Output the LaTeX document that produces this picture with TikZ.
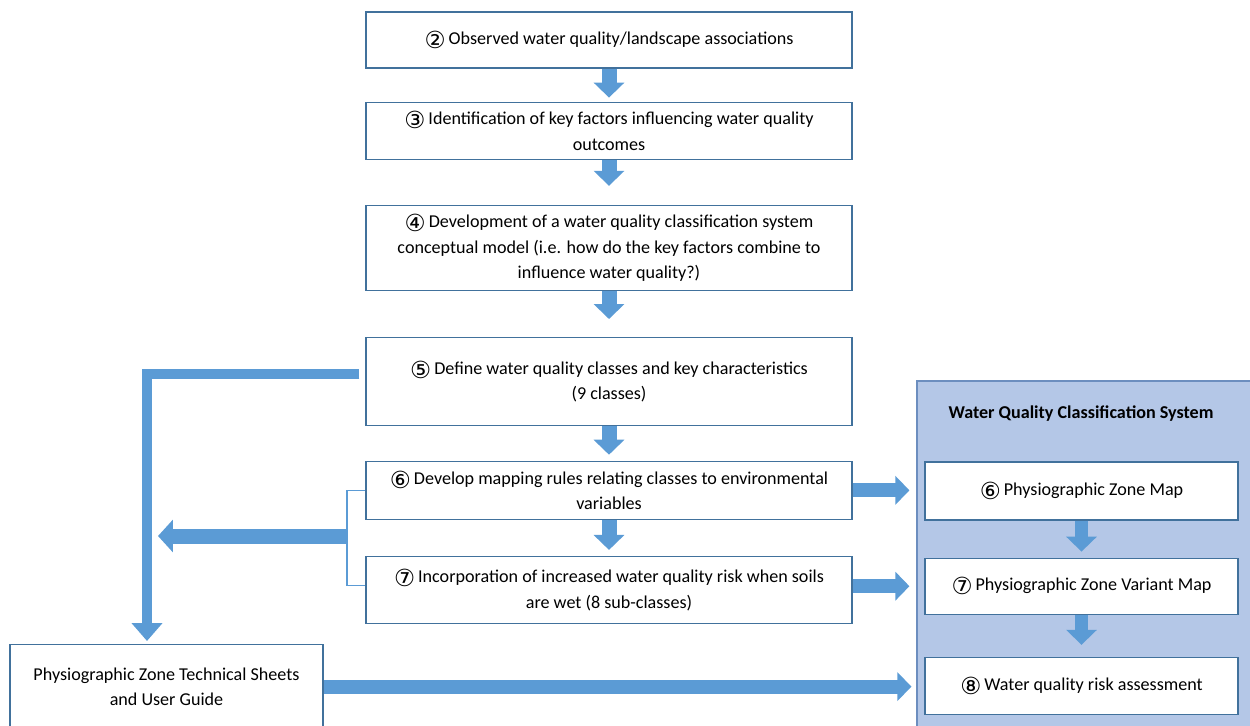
\documentclass[tikz,border=0pt]{standalone}
\usepackage{fontspec}
\setmainfont{Carlito}
\newfontfamily\circfont[Scale=1.3]{DejaVu Sans}
\usetikzlibrary{arrows.meta,positioning}
\definecolor{boxline}{HTML}{41719C}
\definecolor{arrblue}{HTML}{5B9BD5}
\definecolor{panelfill}{HTML}{B4C7E7}
\definecolor{panelline}{HTML}{6C8EBF}
\newcommand{\stepno}[1]{{\circfont\raisebox{-0.3ex}{#1}}\,}
\begin{document}
\begin{tikzpicture}[x=0.02cm, y=-0.02cm,
  stepbox/.style={rectangle, draw=boxline, line width=0.7pt, fill=white, minimum width=9.72cm, align=center, inner sep=0pt, font=\fontsize{10.3}{14.6}\selectfont},
  sidebox/.style={stepbox, minimum width=6.26cm},
  downarr/.style={arrblue, line width=0.3cm, -{Triangle[length=0.3cm, width=0.6cm]}},
  rightarr/.style={arrblue, line width=0.28cm, -{Triangle[length=0.28cm, width=0.56cm]}}
]
\useasboundingbox (0,0) rectangle (1250,726);
\node[stepbox, minimum height=1.12cm] (s2) at (609,40) {\stepno{②}Observed water quality/landscape associations};
\node[stepbox, minimum height=1.14cm, below=0.66cm of s2] (s3) {\stepno{③}Identification of key factors influencing water quality\\outcomes};
\node[stepbox, minimum height=1.7cm, below=0.9cm of s3] (s4) {\stepno{④}Development of a water quality classification system\\conceptual model (i.e. how do the key factors combine to\\influence water quality?)};
\node[stepbox, minimum height=1.76cm, below=0.92cm of s4] (s5) {\stepno{⑤}Define water quality classes and key characteristics\\(9 classes)};
\node[stepbox, minimum height=1.16cm, below=0.69cm of s5] (s6) {\stepno{⑥}Develop mapping rules relating classes to environmental\\variables};
\node[stepbox, minimum height=1.34cm, below=0.72cm of s6] (s7) {\stepno{⑦}Incorporation of increased water quality risk when soils\\are wet (8 sub-classes)};
\node[sidebox, anchor=north, minimum height=1.68cm] (tech) at (166.5,644) {Physiographic Zone Technical Sheets\\and User Guide};
\node[rectangle, draw=panelline, line width=0.8pt, fill=panelfill, minimum width=6.7cm, minimum height=6.98cm] (panel) at (1084.5,555.5) {};
\node[font=\fontsize{10.3}{14.6}\selectfont\bfseries] (title) at (1081,414) {Water Quality Classification System};
\node[sidebox, minimum height=1.16cm] (r6) at (1081.5,491) {\stepno{⑥}Physiographic Zone Map};
\node[sidebox, minimum height=1.12cm, below=0.74cm of r6] (r7) {\stepno{⑦}Physiographic Zone Variant Map};
\node[sidebox, minimum height=1.14cm, below=0.84cm of r7] (r8) {\stepno{⑧}Water quality risk assessment};
\coordinate (brk) at (347,536);
\coordinate (brkend) at (158,536);
\draw[downarr, shorten >=0.08cm] (s2) -- (s3);
\draw[downarr, shorten >=0.38cm] (s3) -- (s4);
\draw[downarr, shorten >=0.36cm] (s4) -- (s5);
\draw[downarr, shorten >=0.12cm] (s5) -- (s6);
\draw[downarr, shorten >=0.12cm] (s6) -- (s7);
\draw[downarr, line width=0.26cm, shorten >=0.12cm] (r6) -- (r7);
\draw[downarr, line width=0.26cm, shorten >=0.24cm] (r7) -- (r8);
\draw[rightarr, shorten >=0.3cm] (s6.east) -- (s6.east -| r6.west);
\draw[rightarr, shorten >=0.3cm] (s7.east |- r7.west) -- (r7.west);
\draw[rightarr, shorten >=0.26cm] (tech.east) -- (tech.east -| r8.west);
\draw[arrblue, line width=0.2cm, shorten <=0.12cm, shorten >=0.06cm, -{Triangle[length=0.36cm, width=0.6cm]}] ([yshift=0.16cm]s5.west) -| ([xshift=-0.39cm]tech.north);
\draw[arrblue, line width=0.6pt] (s6.west) -| (brk) |- ([yshift=0.1cm]s7.west);
\draw[arrblue, line width=0.3cm, -{Triangle[length=0.3cm, width=0.64cm]}] (brk) -- (brkend);
\end{tikzpicture}
\end{document}
